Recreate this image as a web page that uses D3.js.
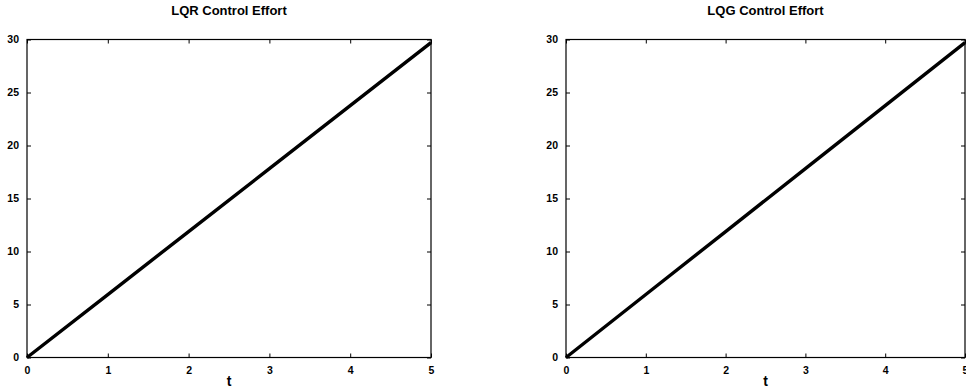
<!DOCTYPE html>
<html>
<head>
<meta charset="utf-8">
<script src="https://cdn.jsdelivr.net/npm/d3@7"></script>
<style>
  html, body { margin: 0; padding: 0; background: #fff; }
  svg { display: block; }
  text { font-family: Arial, "Liberation Sans", sans-serif; font-weight: bold; fill: #000; }
</style>
</head>
<body>
<svg id="chart" width="966" height="391"></svg>
<script>
// Time samples (s) and control effort for each controller
const timeSteps = [0, 1, 2, 3, 4, 5];
const lqrEffort = [0, 5.94, 11.88, 17.82, 23.76, 29.7];
const lqgEffort = [0, 5.94, 11.88, 17.82, 23.76, 29.7];

const xTicks = [0, 1, 2, 3, 4, 5];
const yTicks = [0, 5, 10, 15, 20, 25, 30];

const panels = [
  { title: "LQR Control Effort", values: lqrEffort, left: 27, right: 431 },
  { title: "LQG Control Effort", values: lqgEffort, left: 566, right: 965 }
];

const svg = d3.select("#chart");
const plotTop = 39.5, plotBottom = 357.5;
const tickLen = 4;

panels.forEach(p => {
  const x = d3.scaleLinear().domain([0, 5]).range([p.left, p.right]);
  const y = d3.scaleLinear().domain([0, 30]).range([plotBottom, plotTop]);
  const g = svg.append("g");

  // data line
  const line = d3.line().x((d, i) => x(timeSteps[i])).y(d => y(d));
  g.append("path")
    .datum(p.values)
    .attr("d", line)
    .attr("fill", "none")
    .attr("stroke", "#000")
    .attr("stroke-width", 3.4)
    .attr("stroke-linecap", "butt");

  // box
  g.append("rect")
    .attr("x", x(0)).attr("y", y(30))
    .attr("width", x(5) - x(0)).attr("height", y(0) - y(30))
    .attr("fill", "none").attr("stroke", "#000").attr("stroke-width", 1.2);

  // inward ticks on all four sides
  const bottomAxis = d3.axisBottom(x).tickValues(xTicks).tickSize(-tickLen).tickPadding(9).tickFormat(d3.format("d"));
  const topAxis = d3.axisTop(x).tickValues(xTicks).tickSize(-tickLen).tickFormat("");
  const leftAxis = d3.axisLeft(y).tickValues(yTicks).tickSize(-tickLen).tickPadding(8).tickFormat(d3.format("d"));
  const rightAxis = d3.axisRight(y).tickValues(yTicks).tickSize(-tickLen).tickFormat("");

  [
    [bottomAxis, `translate(0,${plotBottom})`],
    [topAxis, `translate(0,${plotTop})`],
    [leftAxis, `translate(${p.left},0)`],
    [rightAxis, `translate(${p.right},0)`]
  ].forEach(([ax, tr]) => {
    const a = g.append("g").attr("transform", tr).call(ax);
    a.select(".domain").remove();
    a.selectAll("line").attr("stroke", "#000").attr("stroke-width", 1);
    a.selectAll("text").style("font-size", "10.5px").style("font-weight", "bold")
      .style("font-family", "Arial, 'Liberation Sans', sans-serif");
  });

  // title and x label
  g.append("text")
    .attr("x", (p.left + p.right) / 2).attr("y", 15)
    .attr("text-anchor", "middle")
    .style("font-size", "13px")
    .text(p.title);

  g.append("text")
    .attr("x", (p.left + p.right) / 2).attr("y", 386)
    .attr("text-anchor", "middle")
    .style("font-size", "14px")
    .text("t");
});
</script>
</body>
</html>
